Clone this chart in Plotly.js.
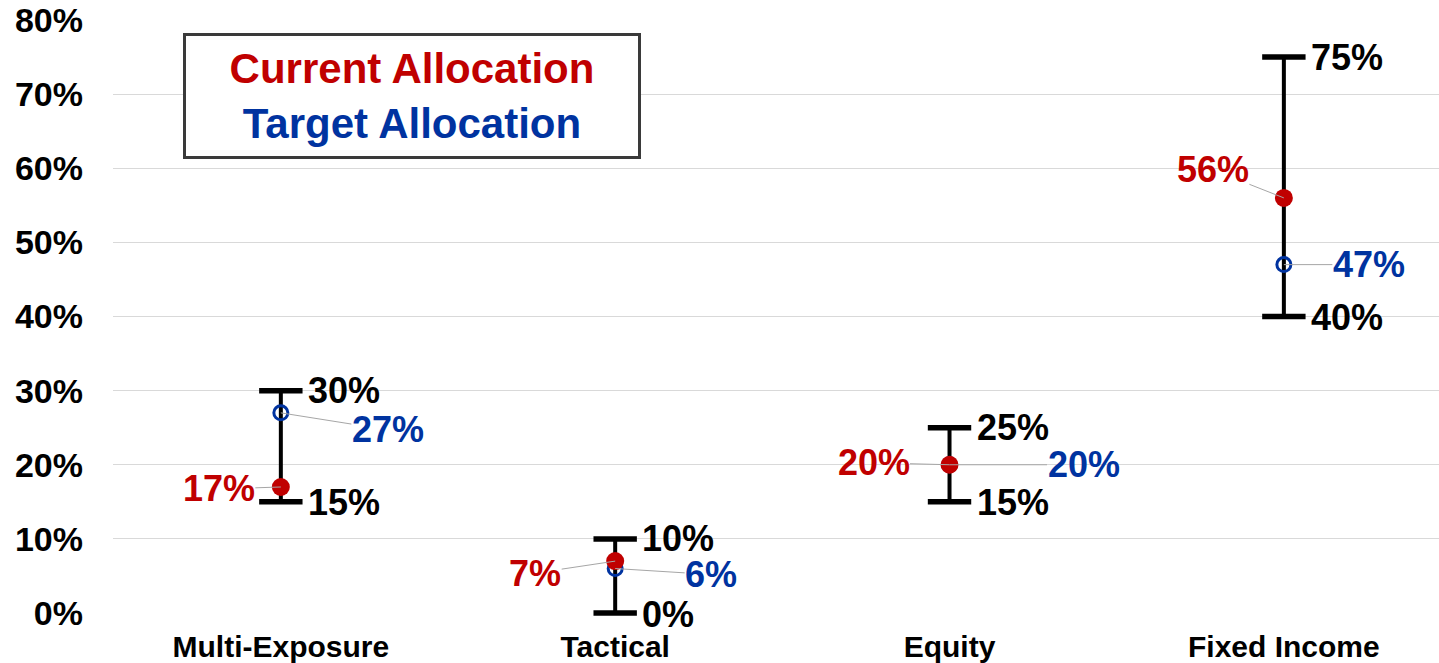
<!DOCTYPE html>
<html>
<head>
<meta charset="utf-8">
<script src="https://cdn.plot.ly/plotly-3.0.1.min.js"></script>
<style>
html,body{margin:0;padding:0;background:#fff;}
#chart{width:1439px;height:663px;}
</style>
</head>
<body>
<div id="chart"></div>
<script>
// ---- data ----
const categories = ["Multi-Exposure", "Tactical", "Equity", "Fixed Income"];
const rangeLow   = [15, 0, 15, 40];
const rangeHigh  = [30, 10, 25, 75];
const current    = [17, 7, 20, 56];
const target     = [27, 6, 20, 47];
const yTicks     = [0, 10, 20, 30, 40, 50, 60, 70, 80];

// label offsets (pixels) for leader-line labels
const currentOffsets = [[-62, 2], [-80, 12], [-76, -2], [-71, -28]];
const targetOffsets  = [[107, 17], [96, 6], [134, 0], [85, 0]];

const RED = "#C00000";
const BLUE = "#0033A0";
const FONT = "Liberation Sans, Arial, sans-serif";

const mid = rangeLow.map((l, i) => (l + rangeHigh[i]) / 2);
const half = rangeLow.map((l, i) => (rangeHigh[i] - l) / 2);

const traces = [
  {
    type: "scatter", mode: "markers", x: categories, y: mid, cliponaxis: false,
    marker: {size: 1, color: "rgba(0,0,0,0)"},
    error_y: {type: "data", array: half, symmetric: true, color: "#000", thickness: 4, width: 0},
    hoverinfo: "skip", showlegend: false
  },
  {
    type: "scatter", mode: "markers", x: categories.concat(categories), y: rangeLow.concat(rangeHigh),
    cliponaxis: false,
    marker: {symbol: "line-ew", size: 31, color: "#000", line: {width: 5.5, color: "#000"}},
    hoverinfo: "skip", showlegend: false
  },
  {
    type: "scatter", mode: "markers", x: categories, y: target, name: "Target Allocation",
    marker: {symbol: "circle-open", size: 14, color: BLUE, line: {width: 3, color: BLUE}},
    showlegend: false
  },
  {
    type: "scatter", mode: "markers", x: categories, y: current, name: "Current Allocation",
    marker: {symbol: "circle", size: 18, color: RED},
    showlegend: false
  }
];

const LBL = 36;
const annotations = [];
categories.forEach((c, i) => {
  annotations.push({x: c, y: rangeHigh[i], text: rangeHigh[i] + "%", showarrow: false,
    xanchor: "left", yanchor: "middle", xshift: 26, yshift: 0, borderpad: 0,
    font: {family: FONT, size: LBL, color: "#000", weight: "bold"}});
  annotations.push({x: c, y: rangeLow[i], text: rangeLow[i] + "%", showarrow: false,
    xanchor: "left", yanchor: "middle", xshift: 26, yshift: -1, borderpad: 0,
    font: {family: FONT, size: LBL, color: "#000", weight: "bold"}});
  annotations.push({x: c, y: current[i], text: current[i] + "%", showarrow: true,
    ax: currentOffsets[i][0], ay: currentOffsets[i][1], axref: "pixel", ayref: "pixel",
    arrowhead: 0, arrowwidth: 1, arrowcolor: "#a6a6a6", standoff: 0, startstandoff: 0, borderpad: 0,
    font: {family: FONT, size: LBL, color: RED, weight: "bold"}});
  annotations.push({x: c, y: target[i], text: target[i] + "%", showarrow: true,
    ax: targetOffsets[i][0], ay: targetOffsets[i][1], axref: "pixel", ayref: "pixel",
    arrowhead: 0, arrowwidth: 1, arrowcolor: "#a6a6a6", standoff: 0, startstandoff: 0, borderpad: 0,
    font: {family: FONT, size: LBL, color: BLUE, weight: "bold"}});
});

annotations.push({
  xref: "paper", yref: "paper", x: 0.2255, y: 0.872, xanchor: "center", yanchor: "middle",
  showarrow: false,
  text: "<span style='color:" + RED + "'>Current Allocation</span><br><span style='color:" + BLUE + "'>Target Allocation</span>",
  font: {family: FONT, size: 42, weight: "bold"},
  bordercolor: "#3a3a3a", borderwidth: 3, borderpad: 4, bgcolor: "#fff",
  width: 444, height: 112, align: "center"
});

const layout = {
  width: 1439, height: 663,
  margin: {l: 113, r: 0, t: 20, b: 50},
  paper_bgcolor: "#fff", plot_bgcolor: "#fff",
  showlegend: false,
  xaxis: {
    type: "category", range: [-0.502, 3.464], showgrid: false, zeroline: false, showline: false,
    ticks: "", ticklabelstandoff: 13,
    tickfont: {family: FONT, size: 30, color: "#000", weight: "bold"}
  },
  yaxis: {
    range: [0, 80], tickvals: yTicks, ticktext: yTicks.map(v => v + "%"),
    showgrid: true, gridcolor: "#d9d9d9", gridwidth: 1, zeroline: false, showline: false,
    ticks: "", ticklabelstandoff: 29,
    tickfont: {family: FONT, size: 34, color: "#000", weight: "bold"}
  },
  annotations: annotations
};

Plotly.newPlot("chart", traces, layout, {staticPlot: true, displayModeBar: false});
</script>
</body>
</html>
